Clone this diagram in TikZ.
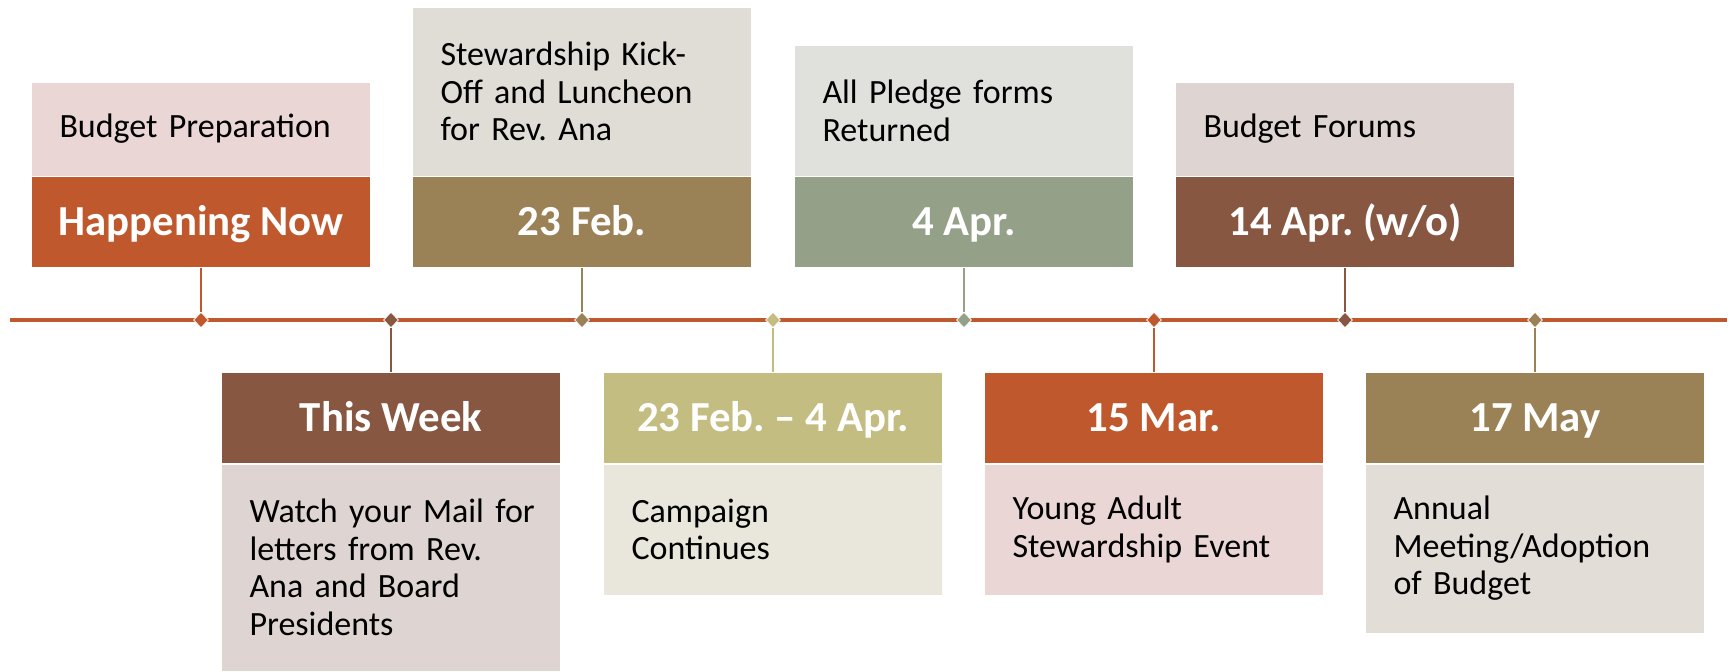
\documentclass[tikz,border=0pt]{standalone}
\usepackage{fontspec}
\setmainfont{Carlito}
\frenchspacing
\usetikzlibrary{shapes.geometric}
\definecolor{rust}{HTML}{BF592D}
\definecolor{bark}{HTML}{875742}
\definecolor{olive}{HTML}{9B8256}
\definecolor{khaki}{HTML}{C4BD82}
\definecolor{sage}{HTML}{94A088}
\definecolor{rosefill}{HTML}{EAD6D4}
\definecolor{barkfill}{HTML}{DED5D2}
\definecolor{olivefill}{HTML}{E0DCD6}
\definecolor{khakifill}{HTML}{E9E7DB}
\definecolor{sagefill}{HTML}{E0E1DD}
\definecolor{mayfill}{HTML}{E2DDD6}
\tikzset{
  hdr/.style={rectangle, fill=#1, draw=white, line width=0.3pt, text=white, minimum width=169.5pt, minimum height=45.5pt, inner sep=0pt, text height=15.6pt, text depth=2pt, font=\fontsize{21.4}{25}\selectfont\bfseries},
  desc/.style={rectangle, draw=white, line width=0.3pt, minimum width=169.5pt, minimum height=#1, inner xsep=4pt, inner ysep=0pt, text width=161.5pt, align=left, execute at begin node={\leftskip=10pt\relax}, font=\fontsize{17}{18.75}\selectfont},
  dmd/.style={diamond, fill=#1, draw=white, line width=0.4pt, minimum width=7.5pt, minimum height=8pt, inner sep=0pt},
  conn/.style={draw=#1, line width=1pt}
}
\begin{document}
\begin{tikzpicture}[x=0.5pt, y=0.5pt]
\useasboundingbox (0,-352) rectangle (1733,320);
\coordinate (tl0) at (10,0);
\coordinate (tl1) at (1727,0);
\draw[rust, line width=1.6pt] (tl0) -- (tl1);

\node[hdr=rust, anchor=south] (h0) at (201,52) {Happening Now};
\node[desc=47pt, fill=rosefill, anchor=south] (b0) at (h0.north) {Budget Preparation};
\node[hdr=bark, anchor=north] (h1) at (391,-52) {This Week};
\node[desc=103.5pt, fill=barkfill, anchor=north] (b1) at (h1.south) {Watch your Mail for\\letters from Rev.\\Ana and Board\\Presidents};
\node[hdr=olive, anchor=south] (h2) at (582,52) {23 Feb.};
\node[desc=84.5pt, fill=olivefill, anchor=south] (b2) at (h2.north) {Stewardship Kick-\\Off and Luncheon\\for Rev. Ana};
\node[hdr=khaki, anchor=north] (h3) at (773,-52) {23 Feb. – 4 Apr.};
\node[desc=65.5pt, fill=khakifill, anchor=north] (b3) at (h3.south) {Campaign\\Continues};
\node[hdr=sage, anchor=south] (h4) at (964,52) {4 Apr.};
\node[desc=65.5pt, fill=sagefill, anchor=south] (b4) at (h4.north) {All Pledge forms\\Returned};
\node[hdr=rust, anchor=north] (h5) at (1154,-52) {15 Mar.};
\node[desc=65.5pt, fill=rosefill, anchor=north] (b5) at (h5.south) {Young Adult\\Stewardship Event};
\node[hdr=bark, anchor=south] (h6) at (1345,52) {14 Apr. (w/o)};
\node[desc=47pt, fill=barkfill, anchor=south] (b6) at (h6.north) {Budget Forums};
\node[hdr=olive, anchor=north] (h7) at (1535,-52) {17 May};
\node[desc=84.5pt, fill=mayfill, anchor=north] (b7) at (h7.south) {Annual\\Meeting/Adoption\\of Budget};

\node[dmd=rust] (d0) at (201,0){};
\node[dmd=bark] (d1) at (391,0){};
\node[dmd=olive] (d2) at (582,0){};
\node[dmd=khaki] (d3) at (773,0){};
\node[dmd=sage] (d4) at (964,0){};
\node[dmd=rust] (d5) at (1154,0){};
\node[dmd=bark] (d6) at (1345,0){};
\node[dmd=olive] (d7) at (1535,0){};
\draw[conn=rust] (d0) -- (h0);
\draw[conn=bark] (d1) -- (h1);
\draw[conn=olive] (d2) -- (h2);
\draw[conn=khaki] (d3) -- (h3);
\draw[conn=sage] (d4) -- (h4);
\draw[conn=rust] (d5) -- (h5);
\draw[conn=bark] (d6) -- (h6);
\draw[conn=olive] (d7) -- (h7);

\end{tikzpicture}
\end{document}
